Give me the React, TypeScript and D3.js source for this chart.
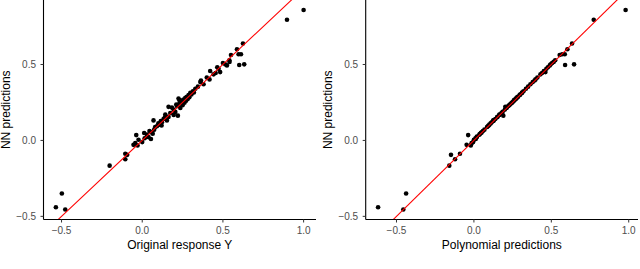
import * as d3 from 'd3';

// NN predictions (shared y), original response Y, polynomial predictions
const nnPred = [
  -0.44, -0.349, -0.455, -0.166, -0.088, -0.124, -0.095, -0.029, 0.035, -0.018,
  -0.033, 0.004, -0.011, 0.049, 0.038, 0.022, 0.009, 0.053, 0.132, 0.071,
  0.093, 0.104, 0.119, 0.141, 0.17, 0.132, 0.155, 0.181, 0.221, 0.216,
  0.203, 0.236, 0.276, 0.163, 0.214, 0.263, 0.269, 0.28, 0.287, 0.298,
  0.313, 0.324, 0.34, 0.384, 0.395, 0.402, 0.457, 0.435, 0.472, 0.45,
  0.501, 0.494, 0.517, 0.563, 0.6, 0.567, 0.567, 0.638, 0.497, 0.501,
  0.795, 0.859, 0.088, 0.112, 0.128, 0.153, 0.168, 0.188, 0.226, 0.243,
  0.252, 0.232, 0.248, 0.262, 0.273, 0.285, 0.303, 0.316, 0.062, 0.025,
  0.014, 0.044, 0.098, 0.266, 0.37, 0.414, 0.444, 0.482, 0.51, 0.528, 0.354
];
const originalY = [
  -0.535, -0.498, -0.477, -0.202, -0.105, -0.105, -0.093, -0.054, -0.037, -0.043,
  -0.029, -0.023, 0.0, 0.012, 0.029, 0.039, 0.054, 0.06, 0.07, 0.074,
  0.091, 0.107, 0.122, 0.132, 0.143, 0.153, 0.163, 0.174, 0.163, 0.184,
  0.194, 0.211, 0.225, 0.221, 0.236, 0.246, 0.256, 0.267, 0.277, 0.287,
  0.298, 0.314, 0.329, 0.36, 0.364, 0.417, 0.421, 0.442, 0.473, 0.483,
  0.514, 0.525, 0.541, 0.55, 0.587, 0.597, 0.612, 0.624, 0.601, 0.632,
  0.897, 1.0, 0.08, 0.1, 0.115, 0.14, 0.195, 0.205, 0.215, 0.23,
  0.24, 0.25, 0.262, 0.272, 0.282, 0.292, 0.305, 0.32, 0.045, 0.03,
  0.015, 0.065, 0.12, 0.23, 0.38, 0.4, 0.455, 0.465, 0.5, 0.54, 0.345
];
const polyPred = [
  -0.619, -0.438, -0.456, -0.159, -0.09, -0.122, -0.148, -0.047, -0.037, -0.015,
  -0.02, 0.0, -0.005, 0.045, 0.035, 0.018, 0.012, 0.05, 0.125, 0.068,
  0.09, 0.1, 0.115, 0.138, 0.165, 0.128, 0.152, 0.178, 0.203, 0.212,
  0.2, 0.232, 0.272, 0.19, 0.21, 0.258, 0.265, 0.276, 0.283, 0.295,
  0.31, 0.32, 0.336, 0.38, 0.392, 0.398, 0.452, 0.43, 0.468, 0.462,
  0.496, 0.49, 0.515, 0.554, 0.604, 0.587, 0.57, 0.634, 0.589, 0.647,
  0.774, 0.98, 0.085, 0.108, 0.125, 0.15, 0.165, 0.185, 0.222, 0.24,
  0.25, 0.228, 0.245, 0.258, 0.27, 0.282, 0.3, 0.312, 0.058, 0.02,
  0.01, 0.04, 0.095, 0.262, 0.365, 0.41, 0.44, 0.478, 0.505, 0.525, 0.35
];

const xTicks = [-0.5, 0, 0.5, 1.0];
const yTicks = [-0.5, 0, 0.5];
const fmt = d3.format('.1f');

const yTitle = 'NN predictions';
const xTitles = ['Original response Y', 'Polynomial predictions'];

const W = 640;
const H = 269;
const FONT = '"Liberation Sans", Arial, Helvetica, sans-serif';

type PanelProps = {
  xs: number[];
  left: number;
  right: number;
  xTitle: string;
  id: string;
};

function Panel({ xs, left, right, xTitle, id }: PanelProps) {
  const top = 0;
  const bottom = 219.5;
  const xExt = d3.extent(xs) as [number, number];
  const yExt = d3.extent(nnPred) as [number, number];
  const xPad = (xExt[1] - xExt[0]) * 0.05;
  const yPad = (yExt[1] - yExt[0]) * 0.05;
  const x = d3.scaleLinear().domain([xExt[0] - xPad, xExt[1] + xPad]).range([left, right]);
  const y = d3.scaleLinear().domain([yExt[0] - yPad, yExt[1] + yPad]).range([bottom, top]);
  const [d0, d1] = x.domain();
  const line = d3.line<number>().x((v) => x(v)).y((v) => y(v));

  return (
    <g>
      <defs>
        <clipPath id={id}>
          <rect x={left} y={top} width={right - left} height={bottom - top} />
        </clipPath>
      </defs>
      <g clipPath={`url(#${id})`}>
        {xs.map((v, i) => (
          <circle key={i} cx={x(v)} cy={y(nnPred[i])} r={2.3} fill="#000" />
        ))}
        <path d={line([d0, d1]) as string} stroke="#ff0000" strokeWidth={1.1} fill="none" />
      </g>
      <line x1={left} x2={left} y1={top} y2={bottom} stroke="#000" strokeWidth={1.1} />
      <line x1={left} x2={right} y1={bottom} y2={bottom} stroke="#000" strokeWidth={1.1} />
      {xTicks.map((t) => (
        <g key={t}>
          <line x1={x(t)} x2={x(t)} y1={bottom} y2={bottom + 3} stroke="#333" strokeWidth={1} />
          <text x={x(t)} y={bottom + 14} textAnchor="middle" fontSize={10} fill="#4d4d4d" fontFamily={FONT}>
            {fmt(t)}
          </text>
        </g>
      ))}
      {yTicks.map((t) => (
        <g key={t}>
          <line x1={left - 3} x2={left} y1={y(t)} y2={y(t)} stroke="#333" strokeWidth={1} />
          <text x={left - 7.5} y={y(t)} dy="0.35em" textAnchor="end" fontSize={10} fill="#4d4d4d" fontFamily={FONT}>
            {fmt(t)}
          </text>
        </g>
      ))}
      <text x={(left + right) / 2} y={249} textAnchor="middle" fontSize={12} fill="#000" fontFamily={FONT}>
        {xTitle}
      </text>
      <text
        transform={`translate(${left - 33.5},${(top + bottom) / 2}) rotate(-90)`}
        textAnchor="middle"
        fontSize={12}
        fill="#000"
        fontFamily={FONT}
      >
        {yTitle}
      </text>
    </g>
  );
}

export default function App() {
  return (
    <svg
      xmlns="http://www.w3.org/2000/svg"
      width={W}
      height={H}
      style={{ position: 'absolute', left: 0, top: 0, background: '#fff' }}
    >
      <Panel xs={originalY} left={43.5} right={316} xTitle={xTitles[0]} id="clipL" />
      <Panel xs={polyPred} left={365.7} right={638} xTitle={xTitles[1]} id="clipR" />
    </svg>
  );
}
